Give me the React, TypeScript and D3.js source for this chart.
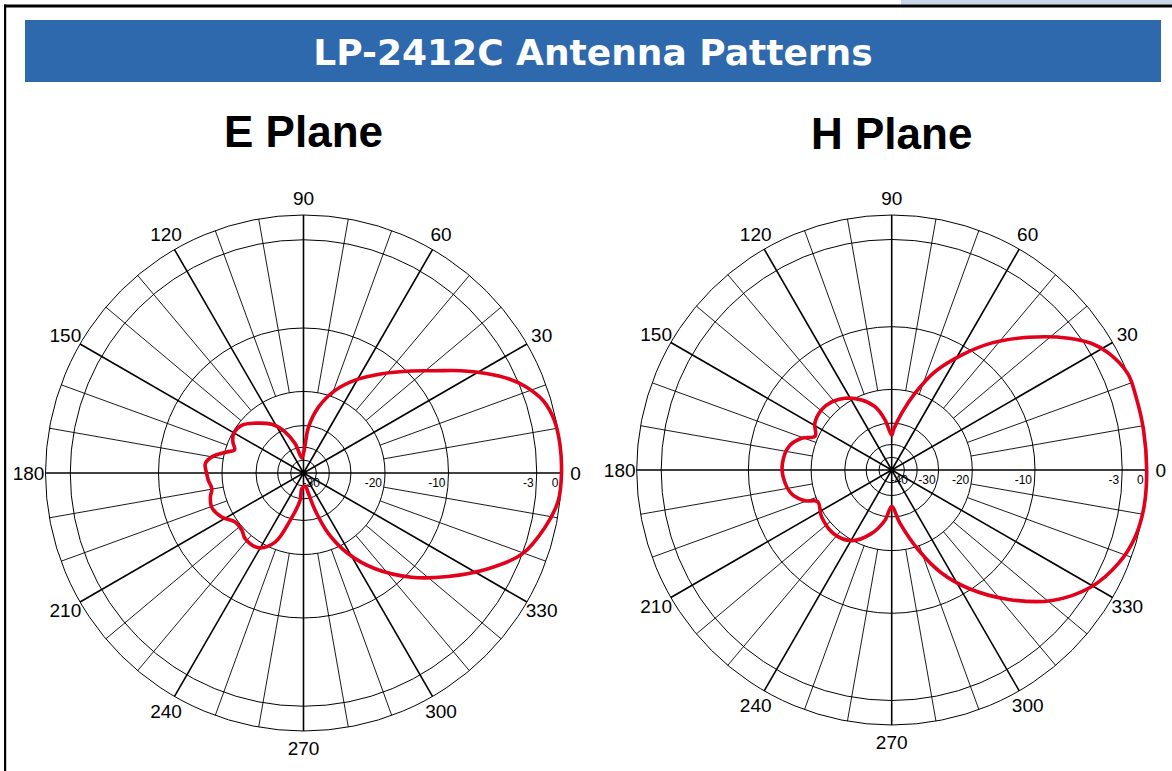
import * as d3 from "d3";

// ring scale of the polar grid (dB -> fraction of outer radius)
const ringDb = [-50, -40, -30, -20, -10, -3, 0];
const ringFrac = [0.05, 0.1, 0.184, 0.316, 0.562, 0.904, 1];

const angleTicks = [0, 30, 60, 90, 120, 150, 180, 210, 240, 270, 300, 330];
const spokeAngles = d3.range(0, 360, 10);

// E plane pattern (degrees, dB)
const eAngles = [
  0, 6.5, 11.8, 16.7, 21.3, 24.7, 28.6, 33, 37.9, 43.3, 51.7, 60.9, 69, 77.2,
  83.8, 86, 89.2, 96.4, 105.8, 114, 123, 134, 142, 150.7, 156.3, 161.4, 164.7,
  170, 174.6, 180.4, 184.4, 189.7, 194.4, 200.3, 208.3, 215.7, 222.9, 228.4,
  238.9, 247.7, 254.3, 263, 263.8, 277, 283.6, 287.4, 292.4, 299, 306.8, 316,
  324.4, 332.6, 339.7, 347.4, 353.9,
];
const eGain = [
  0, 0, -0.2, -0.9, -2.4, -3.6, -5.0, -6.6, -8.3, -9.7, -12.9, -16.1, -18.9,
  -24.1, -30.6, -36.8, -43.8, -48.3, -37.9, -31.2, -26.9, -23.6, -21.1, -20.4,
  -21.3, -22.6, -20.6, -18.2, -17.3, -17.6, -17.8, -18.2, -17.7, -17.4, -18.2,
  -19.6, -19.6, -19.0, -19.1, -22.0, -29.5, -39.2, -47.7, -49.6, -43.4, -33.8,
  -24.7, -18.3, -14.0, -9.6, -7.4, -5.0, -3.0, -1.25, -0.2,
];

// H plane pattern (degrees, dB)
const hAngles = [
  0, 9, 16.5, 22.2, 28.3, 32.3, 36.7, 44.1, 51.7, 58.7, 66.2, 73.1, 80, 87.6,
  90, 97.6, 104.8, 113.2, 123.1, 131.3, 139.4, 148.7, 156.1, 160.6, 167.3,
  176.5, 183.5, 193.1, 199.5, 203.2, 213.7, 227.4, 240.5, 252.5, 262.4, 270,
  278.9, 288.5, 295.8, 302.9, 312.1, 320.9, 329.7, 337.6, 344.7, 351.7,
];
const hGain = [
  0, 0, 0, 0, -1.05, -2.25, -3.8, -6.2, -8.5, -11.4, -15.7, -20.1, -26.8,
  -33.2, -35.6, -28.9, -24.5, -21.3, -19.2, -18.4, -18.1, -18.5, -19.5, -17.6,
  -16.0, -15.4, -15.5, -16.4, -18.2, -20.0, -19.4, -19.1, -19.9, -24.2, -28.9,
  -34.8, -27.9, -19.4, -14.6, -10.4, -7.5, -4.9, -2.9, -1.2, -0.3, 0,
];

const eRingLabels = ["0", "-3", "-10", "-20", "-30"];
const eRingLabelDb = [0, -3, -10, -20, -45];
const hRingLabels = ["0", "-3", "-10", "-20", "-30", "-40"];
const hRingLabelDb = [0, -3, -10, -20, -30, -45];

const FONT = "'Liberation Sans', Arial, sans-serif";
const RED = "#e2001a";

interface PlotProps {
  cx: number;
  cy: number;
  R: number;
  title: string;
  titleY: number;
  angles: number[];
  gain: number[];
  ringLabels: string[];
  ringLabelDb: number[];
}

function PolarPlot({ cx, cy, R, title, titleY, angles, gain, ringLabels, ringLabelDb }: PlotProps) {
  const r = d3.scaleLinear().domain(ringDb).range(ringFrac.map((f) => f * R)).clamp(true);
  const toRad = (deg: number) => (deg * Math.PI) / 180;

  const pts = angles.map((a, i) => ({ a, g: gain[i] }));
  const line = d3
    .lineRadial<{ a: number; g: number }>()
    .angle((d) => Math.PI / 2 - toRad(d.a))
    .radius((d) => r(d.g))
    .curve(d3.curveCatmullRomClosed.alpha(0.5));

  return (
    <g>
      <text x={cx} y={titleY} textAnchor="middle" fontFamily={FONT} fontWeight="bold" fontSize={44} fill="#000">
        {title}
      </text>
      <g transform={`translate(${cx},${cy})`}>
        {ringDb.map((d) => (
          <circle key={d} r={r(d)} fill="none" stroke="#000" strokeWidth={1} />
        ))}
        {spokeAngles.map((a) => {
          const major = a % 30 === 0;
          const r0 = major ? 0 : r(-20);
          const t = toRad(a);
          return (
            <line
              key={a}
              x1={r0 * Math.cos(t)}
              y1={-r0 * Math.sin(t)}
              x2={R * Math.cos(t)}
              y2={-R * Math.sin(t)}
              stroke="#000"
              strokeWidth={major ? 1.6 : 0.9}
            />
          );
        })}
        <circle r={3} fill="#000" />
        {ringLabels.map((t, i) => (
          <text
            key={t}
            x={r(ringLabelDb[i]) - 3}
            y={14}
            textAnchor="end"
            fontFamily={FONT}
            fontSize={12}
            fill="#000"
          >
            {t}
          </text>
        ))}
        {angleTicks.map((a) => {
          const t = toRad(a);
          const rr = a === 0 ? R + 14 : R + 17;
          return (
            <text
              key={a}
              x={rr * Math.cos(t)}
              y={-rr * Math.sin(t)}
              textAnchor="middle"
              dominantBaseline="central"
              fontFamily={FONT}
              fontSize={19}
              fill="#000"
            >
              {a}
            </text>
          );
        })}
        <path d={line(pts) ?? ""} fill="none" stroke={RED} strokeWidth={3.6} strokeLinejoin="round" />
      </g>
    </g>
  );
}

export default function App() {
  return (
    <svg width={1172} height={771} style={{ position: "absolute", left: 0, top: 0, background: "#fff" }}>
      <rect x={0} y={0} width={1172} height={771} fill="#fff" />
      <rect x={901} y={0} width={271} height={4.5} fill="#c6d5e8" />
      <rect x={4} y={4.5} width={1168} height={3} fill="#000" />
      <rect x={4} y={4.5} width={2.2} height={767} fill="#000" />
      <rect x={25} y={20} width={1136} height={62} fill="#2e68ad" />
      <text
        x={593}
        y={65}
        textAnchor="middle"
        fontFamily="'DejaVu Sans', Verdana, sans-serif"
        fontWeight="bold"
        fontSize={36}
        fill="#fff"
      >
        LP-2412C Antenna Patterns
      </text>
      <PolarPlot
        cx={303.5}
        cy={473}
        R={258}
        title="E Plane"
        titleY={147}
        angles={eAngles}
        gain={eGain}
        ringLabels={eRingLabels}
        ringLabelDb={eRingLabelDb}
      />
      <PolarPlot
        cx={891.7}
        cy={470}
        R={255}
        title="H Plane"
        titleY={149}
        angles={hAngles}
        gain={hGain}
        ringLabels={hRingLabels}
        ringLabelDb={hRingLabelDb}
      />
    </svg>
  );
}
